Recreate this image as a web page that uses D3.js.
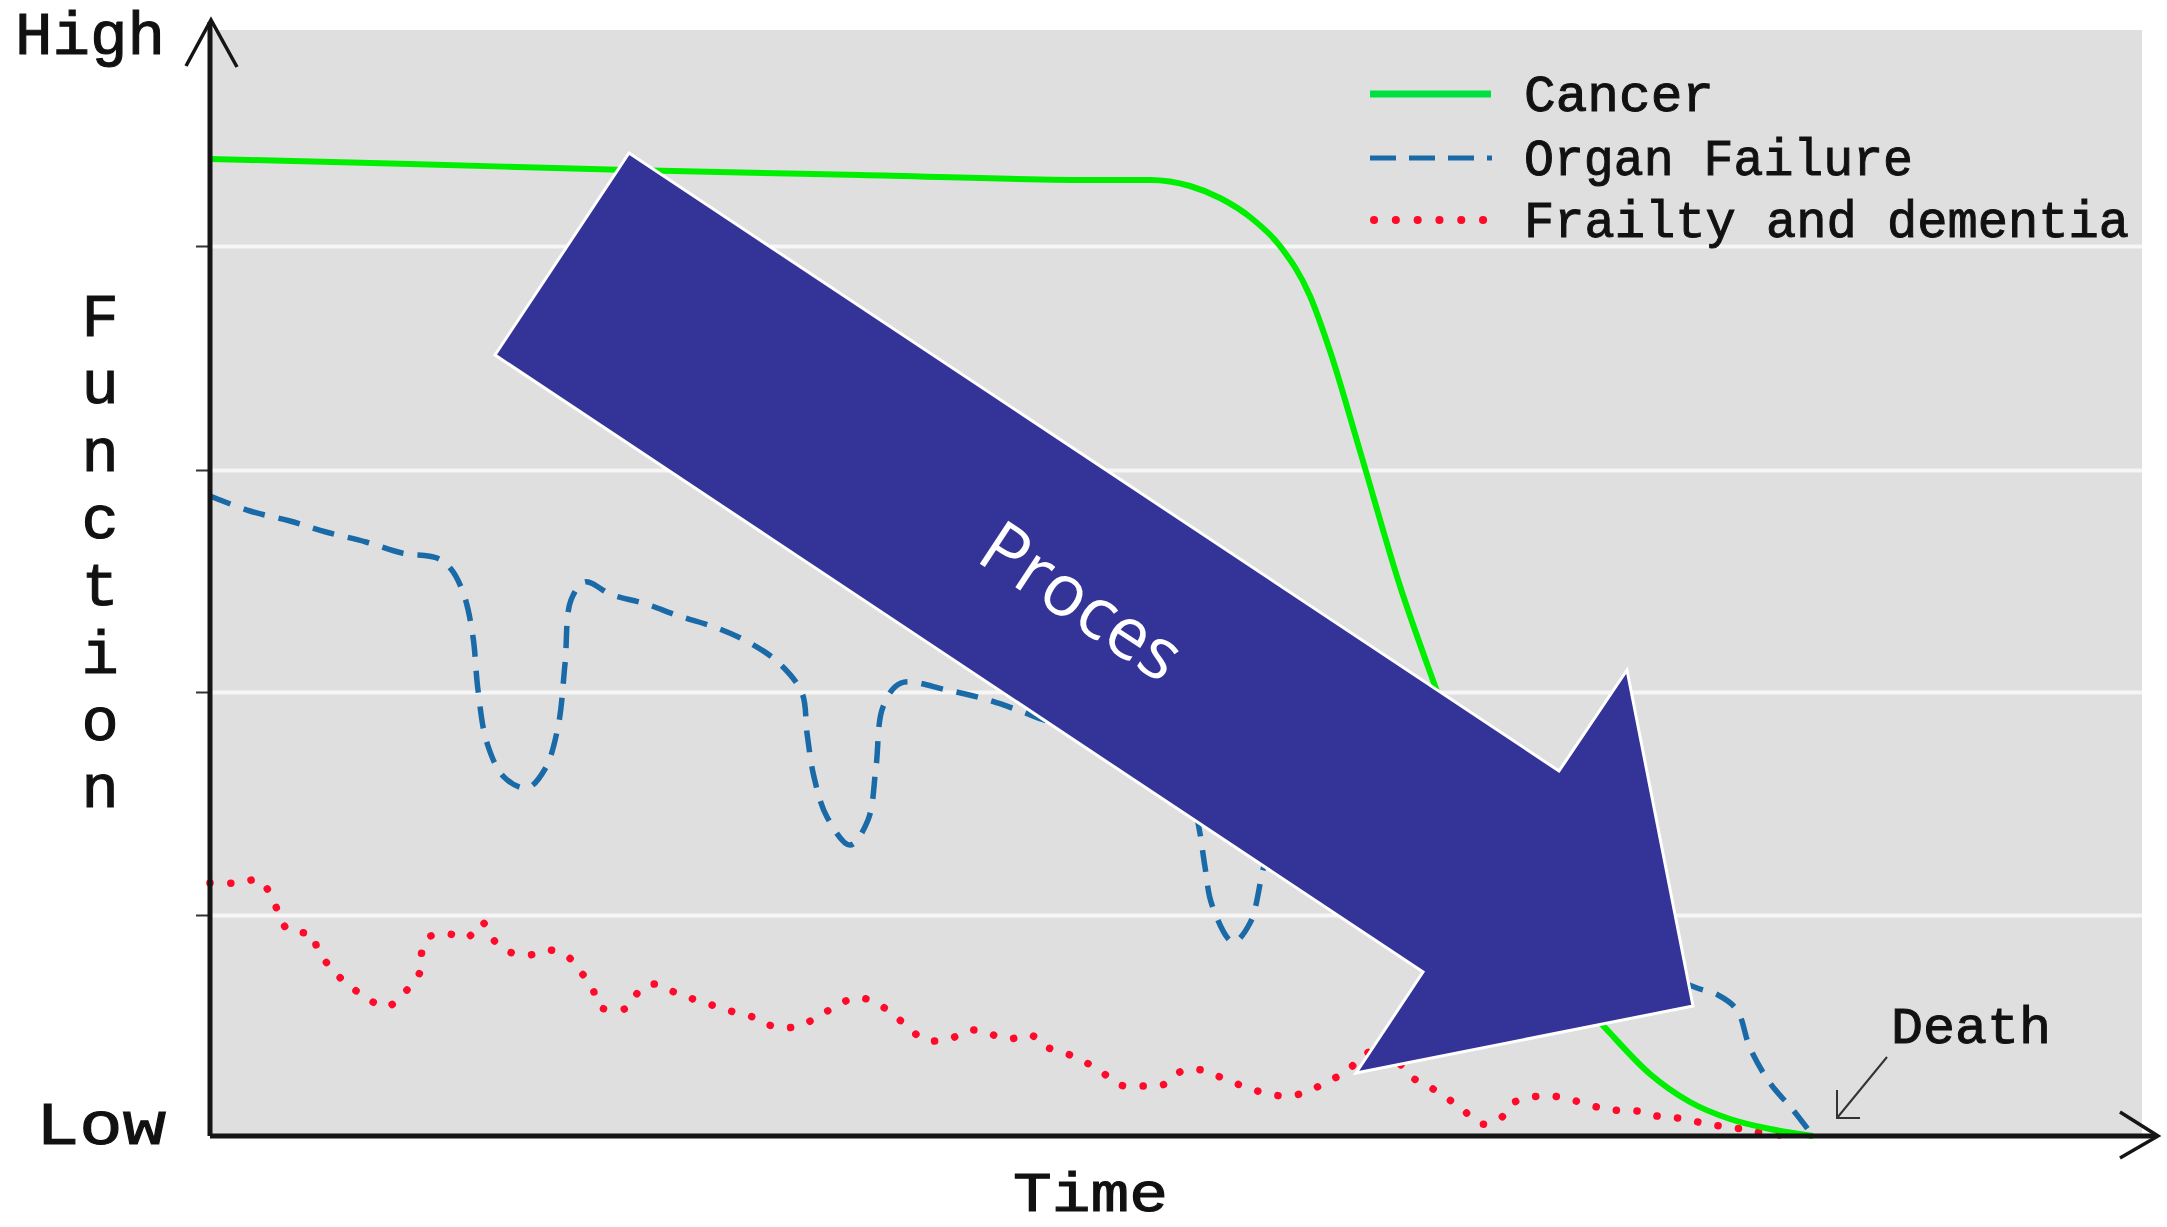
<!DOCTYPE html>
<html>
<head>
<meta charset="utf-8">
<script src="https://cdn.jsdelivr.net/npm/d3@7"></script>
<style>
  body { margin: 0; background: #fff; }
</style>
</head>
<body>
<script>
const W = 2167, H = 1227;

// series as [time, function] pairs
const cancer = [
  [0, 97.7], [20, 97.2], [41.8, 96.6], [65, 96.1], [89, 95.6], [94, 95.6],
  [98, 95.0], [101, 93.8], [104, 91.9], [107, 89.0], [110, 84.0], [112, 78.5],
  [115, 68.5], [119, 55.0], [122.5, 45.0], [126, 35.5], [129.5, 26.5], [133, 19.5],
  [136.5, 14.3], [140, 10.3], [144, 6.2], [148, 3.4], [152, 1.7], [156, 0.7],
  [160.3, 0]
];
const organFailure = [
  [0, 64.0], [4, 62.5], [8, 61.5], [11.6, 60.4], [15.6, 59.4], [19.2, 58.3],
  [22.7, 57.8], [24.1, 56.7], [25.4, 54.1], [26.3, 49.9], [26.8, 44.6], [27.7, 39.3],
  [29.4, 35.9], [31.7, 34.8], [33.5, 36.7], [34.8, 40.9], [35.5, 47.2], [36.1, 53.6],
  [37.5, 55.4], [40.2, 54.1], [43.3, 53.3], [46.9, 52.0], [50.7, 50.8], [54, 49.3],
  [56.9, 47.3], [59.2, 44.3], [59.7, 40.3], [60.4, 35.9], [61.7, 31.9], [64, 29.1],
  [65.8, 31.6], [66.6, 36.9], [67.3, 42.9], [69.1, 45.3], [73.7, 44.6], [77.8, 43.6],
  [81.3, 42.4], [83.4, 41.6], [89, 40.1], [95, 38.4], [97.8, 35.4], [98.9, 30.8],
  [99.5, 26.9], [100.2, 23.1], [102.3, 19.4], [104, 21.3], [105.3, 26.6], [106.5, 31.1],
  [108.5, 33.1], [113, 32.1], [121, 28.6], [131, 23.1], [141, 18.1], [148.7, 14.8],
  [150.8, 14.1], [152.7, 12.6], [154, 8.8], [156, 5.3], [158.3, 2.6], [160.3, 0]
];
const frailty = [
  [0, 25.3], [2.7, 25.3], [4.9, 25.6], [5.8, 24.6], [6.7, 22.7], [7.8, 20.6],
  [10.3, 20.1], [10.7, 18.8], [12, 16.9], [13.6, 15.3], [15.4, 14.0], [17.6, 12.9],
  [19.6, 14.5], [21, 16.4], [21.2, 18.5], [21.9, 19.9], [23.9, 20.2], [25.7, 19.8],
  [27.2, 21.4], [28.1, 19.9], [29.7, 18.5], [31.9, 18.1], [33.9, 18.6], [35.7, 18.0],
  [37, 16.5], [38.2, 14.9], [39, 12.9], [41.7, 12.8], [43, 14.6], [44.5, 15.2],
  [46.4, 14.4], [48.3, 13.7], [50.5, 13.0], [52.4, 12.4], [54.6, 11.8], [56.5, 10.9],
  [58.9, 11.0], [60.9, 12.0], [62.8, 13.1], [64.5, 13.8], [66.3, 13.5], [68.1, 12.3],
  [69.7, 11.0], [71.5, 9.6], [73.9, 9.7], [76.1, 10.6], [77.7, 10.3], [79.8, 9.7],
  [82.1, 10.1], [83.4, 9.0], [85.5, 8.3], [87.5, 7.4], [89.3, 6.3], [91, 5.1],
  [93.5, 5.0], [95.5, 5.2], [97.2, 6.5], [99.2, 6.6], [101, 5.9], [103, 5.1],
  [105.1, 4.4], [107.4, 4.0], [109.7, 4.4], [111.6, 5.4], [113.6, 6.4], [115.4, 8.1],
  [117.5, 8.8], [120, 6.0], [121.8, 5.0], [123.7, 3.8], [125.3, 2.6], [127.2, 1.2],
  [129.2, 1.9], [130.3, 3.3], [132.2, 3.9], [134.2, 4.0], [136.2, 3.6], [138.3, 3.0],
  [140.3, 2.6], [142.7, 2.5], [144.7, 2.0], [146.8, 1.8], [148.8, 1.4], [151, 1.0],
  [153.2, 0.7], [155.2, 0.3], [158, 0]
];

const seriesNames = ["Cancer", "Organ Failure", "Frailty and dementia"];
const gridTicks = [22.1, 44.4, 66.6, 89.0];
const functionLetters = ["F", "u", "n", "c", "t", "i", "o", "n"];
const deathTime = 160.3;
// block arrow corners, in chart units
const arrowPts = [
  [41.9, 98.3], [134.9, 36.5], [141.7, 46.6], [148.3, 13.0],
  [114.6, 6.3], [121.3, 16.4], [28.5, 78.1]
];

const x = d3.scaleLinear().domain([0, 193.2]).range([210, 2142]);
const y = d3.scaleLinear().domain([0, 111.4]).range([1136, 22]);

const svg = d3.select("body").append("svg")
  .attr("width", W)
  .attr("height", H);

const labelFont = "'Liberation Mono', 'DejaVu Sans Mono', monospace";

// plot background
svg.append("rect")
  .attr("x", x(0))
  .attr("y", y(110.6))
  .attr("width", x(193.2) - x(0))
  .attr("height", y(0) - y(110.6))
  .attr("fill", "#e0dfe0");

// white grid lines
const grid = svg.append("g")
  .attr("transform", `translate(${x(0)},0)`)
  .call(d3.axisRight(y).tickValues(gridTicks).tickSize(x(193.2) - x(0)).tickFormat(""));
grid.select(".domain").remove();
grid.selectAll("line").attr("stroke", "#f6f6f6").attr("stroke-width", 4);

// little ticks left of the y axis
const ticks = svg.append("g")
  .attr("transform", `translate(${x(0)},0)`)
  .call(d3.axisLeft(y).tickValues(gridTicks).tickSize(14).tickFormat(""));
ticks.select(".domain").remove();
ticks.selectAll("line").attr("stroke", "#333").attr("stroke-width", 2);

const wiggly = d3.line()
  .x(d => x(d[0]))
  .y(d => y(d[1]))
  .curve(d3.curveCatmullRom.alpha(0.5));

const smooth = d3.line()
  .x(d => x(d[0]))
  .y(d => y(d[1]))
  .curve(d3.curveMonotoneX);

svg.append("path")
  .datum(frailty)
  .attr("d", wiggly)
  .attr("fill", "none")
  .attr("stroke", "#ff0a2a")
  .attr("stroke-width", 7.5)
  .attr("stroke-linecap", "round")
  .attr("stroke-dasharray", "0.1,20.5");

svg.append("path")
  .datum(organFailure)
  .attr("d", wiggly)
  .attr("fill", "none")
  .attr("stroke", "#1a6aa8")
  .attr("stroke-width", 5.5)
  .attr("stroke-dasharray", "22,14");

svg.append("path")
  .datum(cancer)
  .attr("d", smooth)
  .attr("fill", "none")
  .attr("stroke", "#00ee00")
  .attr("stroke-width", 6);

// axes with open arrow heads
const axisG = svg.append("g")
  .attr("fill", "none")
  .attr("stroke", "#151515");
axisG.append("path")
  .attr("stroke-width", 5)
  .attr("d", `M${x(0)},${y(0)}V22M${x(0)},${y(0)}H2156`);
axisG.append("path")
  .attr("stroke-width", 3.5)
  .attr("d", `M186,66L${x(0) + 1},20L237,67M2120,1112L2158,${y(0)}L2120,1158`);

// big "Proces" block arrow
svg.append("polygon")
  .attr("points", arrowPts.map(p => [x(p[0]), y(p[1])].join(",")).join(" "))
  .attr("fill", "#343498")
  .attr("stroke", "#fff")
  .attr("stroke-width", 3)
  .attr("stroke-linejoin", "miter");

svg.append("text")
  .attr("transform", "translate(1068,622) rotate(33.5)")
  .attr("text-anchor", "middle")
  .attr("font-family", "'Open Sans', sans-serif")
  .attr("font-size", 72)
  .attr("fill", "#fff")
  .text("Proces");

// axis words, slightly thickened mono serif
const words = svg.append("g")
  .attr("font-family", labelFont)
  .attr("fill", "#111")
  .attr("stroke", "#111")
  .attr("stroke-width", 1.1);

words.append("text")
  .attr("x", 15).attr("y", 54)
  .attr("font-size", 62)
  .attr("textLength", 150)
  .attr("lengthAdjust", "spacingAndGlyphs")
  .text("High");

words.append("text")
  .attr("x", 36).attr("y", 1144)
  .attr("font-size", 62)
  .attr("textLength", 130)
  .attr("lengthAdjust", "spacingAndGlyphs")
  .text("Low");

words.append("text")
  .attr("x", 1013).attr("y", 1211)
  .attr("font-size", 56)
  .attr("textLength", 155)
  .attr("lengthAdjust", "spacingAndGlyphs")
  .text("Time");

words.append("text")
  .attr("font-size", 62)
  .attr("text-anchor", "middle")
  .selectAll("tspan")
  .data(functionLetters)
  .join("tspan")
  .attr("x", 100)
  .attr("y", (d, i) => 336 + i * 67.3)
  .text(d => d);

// legend
const legendY = [94, 158, 220];
const legendW = [190, 389, 605];
const legend = svg.append("g");
legend.append("line")
  .attr("x1", 1370).attr("x2", 1491)
  .attr("y1", legendY[0]).attr("y2", legendY[0])
  .attr("stroke", "#00e040").attr("stroke-width", 7);
legend.append("line")
  .attr("x1", 1370).attr("x2", 1492)
  .attr("y1", legendY[1]).attr("y2", legendY[1])
  .attr("stroke", "#1a6aa8").attr("stroke-width", 5)
  .attr("stroke-dasharray", "26,13");
legend.append("line")
  .attr("x1", 1374).attr("x2", 1490)
  .attr("y1", legendY[2]).attr("y2", legendY[2])
  .attr("stroke", "#ff0a2a").attr("stroke-width", 8)
  .attr("stroke-linecap", "round")
  .attr("stroke-dasharray", "0.1,21.7");
legend.selectAll("text")
  .data(seriesNames)
  .join("text")
  .attr("x", 1524)
  .attr("y", (d, i) => legendY[i] + 17)
  .attr("font-family", labelFont)
  .attr("font-size", 52)
  .attr("fill", "#111")
  .attr("stroke", "#111")
  .attr("stroke-width", 1)
  .attr("textLength", (d, i) => legendW[i])
  .attr("lengthAdjust", "spacingAndGlyphs")
  .text(d => d);

// death annotation
const dx = x(deathTime), dy = y(0);
svg.append("path")
  .attr("d", `M${dx + 74},${dy - 79}L${dx + 24},${dy - 18}M${dx + 24},${dy - 46}V${dy - 18}H${dx + 47}`)
  .attr("fill", "none")
  .attr("stroke", "#333")
  .attr("stroke-width", 2);
svg.append("text")
  .attr("x", 1891).attr("y", 1043)
  .attr("font-family", labelFont)
  .attr("font-size", 52)
  .attr("fill", "#111")
  .attr("stroke", "#111")
  .attr("stroke-width", 1)
  .attr("textLength", 160)
  .attr("lengthAdjust", "spacingAndGlyphs")
  .text("Death");
</script>
</body>
</html>
